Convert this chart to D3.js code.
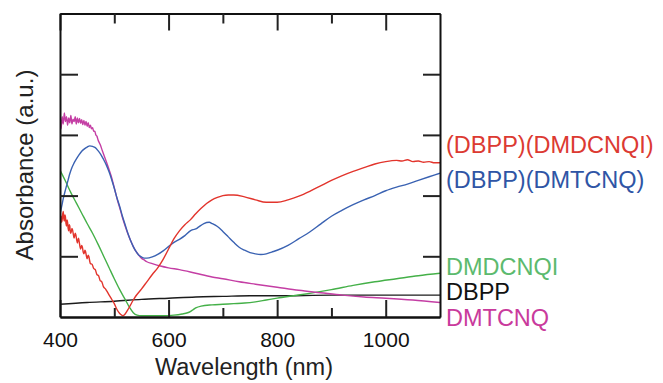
<!DOCTYPE html>
<html>
<head>
<meta charset="utf-8">
<script src="https://cdn.jsdelivr.net/npm/d3@7"></script>
<style>
  html, body { margin: 0; padding: 0; background: #fff; }
  svg { display: block; font-family: "Liberation Sans", Arial, Helvetica, sans-serif; }
</style>
</head>
<body>
<svg id="chart" width="663" height="383"></svg>
<script>
// Absorption spectra, wavelength (nm) vs absorbance (arbitrary units)
const labels = ["(DBPP)(DMDCNQI)", "(DBPP)(DMTCNQ)", "DMDCNQI", "DBPP", "DMTCNQ"];
const colors = ["#e2342c", "#3a62b2", "#44b048", "#1c1c1c", "#c43ea4"];
const labelColors = ["#dc3a32", "#2f55a5", "#5cba6e", "#111111", "#c93a9c"];

const xMajorTicks = [400, 600, 800, 1000];
const xMinorTicks = [500, 700, 900];
const yTicks = [1, 2, 3, 4];

const complexDMDCNQI = [
  [400,1.52],[401,1.62],[402,1.66],[403,1.56],[404,1.60],[405,1.70],[406,1.74],[407,1.62],
  [408,1.58],[409,1.68],[410,1.65],[411,1.54],[412,1.50],[413,1.60],[414,1.56],[415,1.46],
  [416,1.42],[417,1.52],[418,1.50],[419,1.40],[420,1.38],[422,1.46],[423,1.44],[425,1.34],
  [426,1.30],[428,1.38],[429,1.36],[431,1.26],[432,1.22],[434,1.30],[435,1.26],[437,1.15],
  [438,1.12],[440,1.18],[441,1.16],[443,1.06],[444,1.04],[446,1.10],[447,1.08],[449,0.99],
  [450,0.96],[452,1.02],[453,1.00],[455,0.91],[456,0.88],[459,0.87],
  [462,0.80],[465,0.78],[468,0.70],[471,0.68],[474,0.60],[477,0.58],[480,0.50],[484,0.46],
  [488,0.40],[492,0.34],[496,0.28],[500,0.22],[504,0.14],[508,0.08],[512,0.04],[516,0.02],
  [520,0.05],[525,0.12],[530,0.20],[535,0.28],[540,0.35],[550,0.46],[560,0.58],[570,0.70],
  [580,0.81],[590,0.95],[600,1.12],[610,1.29],[620,1.42],[630,1.52],[640,1.60],[650,1.70],
  [660,1.79],[670,1.87],[680,1.93],[690,1.97],[700,2.00],[710,2.01],[720,2.01],[740,1.98],
  [760,1.93],[780,1.89],[800,1.89],[820,1.93],[840,1.99],[860,2.07],[880,2.16],[900,2.25],
  [920,2.33],[940,2.40],[960,2.46],[980,2.52],[1000,2.56],[1020,2.58],[1030,2.57],[1040,2.59],
  [1050,2.56],[1060,2.57],[1070,2.55],[1080,2.56],[1090,2.54],[1100,2.54]
];

const complexDMTCNQ = [
  [400,1.70],[403,1.82],[406,1.95],[409,2.06],[412,2.16],[415,2.26],[418,2.36],[421,2.44],
  [425,2.52],[430,2.60],[435,2.67],[440,2.73],[445,2.77],[450,2.80],[455,2.82],[460,2.81],
  [465,2.79],[470,2.74],[475,2.68],[480,2.60],[485,2.51],[490,2.40],[495,2.27],[500,2.12],
  [505,1.96],[510,1.82],[515,1.66],[520,1.52],[525,1.38],[530,1.26],[535,1.16],[540,1.08],
  [545,1.02],[550,0.99],[555,0.97],[560,0.97],[570,0.99],[580,1.03],[590,1.09],[600,1.16],
  [610,1.23],[620,1.28],[630,1.34],[640,1.42],[645,1.44],[650,1.45],[655,1.48],[665,1.54],
  [675,1.56],[680,1.54],[690,1.49],[700,1.41],[710,1.32],[720,1.23],[730,1.15],[740,1.10],
  [750,1.06],[760,1.04],[770,1.03],[780,1.04],[790,1.07],[800,1.10],[820,1.18],[840,1.29],
  [860,1.40],[880,1.53],[900,1.66],[920,1.76],[940,1.85],[960,1.93],[980,2.00],[1000,2.08],
  [1020,2.14],[1040,2.19],[1060,2.25],[1080,2.31],[1100,2.37]
];

const dmdcnqi = [
  [400,2.42],[410,2.24],[420,2.05],[430,1.88],[440,1.71],[450,1.54],[460,1.38],[470,1.20],
  [480,1.01],[490,0.82],[500,0.63],[510,0.45],[520,0.29],[528,0.16],[535,0.07],[542,0.03],
  [550,0.02],[570,0.02],[590,0.02],[610,0.03],[625,0.05],[635,0.07],[640,0.09],[645,0.12],
  [650,0.15],[660,0.18],[680,0.20],[700,0.21],[720,0.22],[740,0.23],[760,0.25],[780,0.28],
  [800,0.31],[830,0.35],[860,0.39],[900,0.45],[940,0.52],[980,0.58],[1020,0.63],[1060,0.68],
  [1100,0.72]
];

const dbpp = [
  [400,0.21],[450,0.24],[500,0.26],[550,0.29],[600,0.31],[650,0.33],[700,0.34],[750,0.35],
  [800,0.35],[900,0.36],[1000,0.36],[1100,0.36]
];

const dmtcnq = [
  [400,3.38],[402,3.10],[404,3.30],[406,3.18],[408,3.36],[410,3.22],[412,3.30],[414,3.16],
  [416,3.28],[418,3.20],[420,3.32],[422,3.18],[424,3.26],[426,3.22],[428,3.30],[430,3.18],
  [432,3.28],[434,3.20],[436,3.27],[438,3.19],[440,3.25],[442,3.17],[444,3.24],[446,3.16],
  [448,3.22],[450,3.14],[452,3.20],[454,3.12],[456,3.16],[458,3.10],[460,3.12],[462,3.06],
  [464,3.06],[466,3.00],[468,2.98],[470,2.92],[474,2.84],[478,2.74],[482,2.64],[486,2.54],
  [490,2.44],[494,2.33],[498,2.20],[502,2.06],[506,1.92],[510,1.80],[515,1.64],[520,1.50],
  [525,1.37],[530,1.26],[535,1.16],[540,1.08],[545,1.02],[550,0.97],[555,0.94],[560,0.91],
  [570,0.88],[585,0.84],[600,0.81],[620,0.78],[650,0.72],[680,0.66],[700,0.63],[730,0.58],
  [760,0.54],[800,0.49],[840,0.44],[880,0.40],[920,0.36],[960,0.33],[1000,0.31],[1050,0.28],
  [1100,0.24]
];

const spectra = [complexDMDCNQI, complexDMTCNQ, dmdcnqi, dbpp, dmtcnq];
const labelBaselines = [153, 188, 275, 300, 326];

const svg = d3.select("#chart");
const plotLeft = 60, plotRight = 440, plotTop = 13.5, plotBottom = 317;

const x = d3.scaleLinear().domain([400, 1100]).range([plotLeft, plotRight]);
const y = d3.scaleLinear().domain([0, 5]).range([plotBottom, plotTop]);

svg.append("defs").append("clipPath").attr("id", "plot-clip")
  .append("rect").attr("x", plotLeft).attr("y", plotTop)
  .attr("width", plotRight - plotLeft).attr("height", plotBottom - plotTop);

// Spectra
const line = d3.line().x(d => x(d[0])).y(d => y(d[1])).curve(d3.curveMonotoneX);
const lines = svg.append("g").attr("clip-path", "url(#plot-clip)");
[3, 2, 4, 1, 0].forEach(i => {
  lines.append("path")
    .datum(spectra[i])
    .attr("fill", "none")
    .attr("stroke", colors[i])
    .attr("stroke-width", 1.4)
    .attr("stroke-linejoin", "round")
    .attr("d", line);
});

// Axes: ticks point inward on all four sides
function styleAxis(g) {
  g.selectAll(".domain").attr("stroke", "#111").attr("stroke-width", 2);
  g.selectAll(".tick line").attr("stroke", "#222").attr("stroke-width", 2);
  g.selectAll(".tick text").attr("font-size", 21).attr("fill", "#111")
    .attr("font-family", "'Liberation Sans', Arial, sans-serif");
}

svg.append("g").attr("transform", `translate(0,${plotBottom})`)
  .call(d3.axisBottom(x).tickValues(xMajorTicks).tickSizeInner(-17).tickSizeOuter(0).tickPadding(15).tickFormat(d3.format("d")))
  .call(styleAxis);
svg.append("g").attr("transform", `translate(0,${plotBottom})`)
  .call(d3.axisBottom(x).tickValues(xMinorTicks).tickSizeInner(-9).tickSizeOuter(0).tickFormat(""))
  .call(styleAxis);
svg.append("g").attr("transform", `translate(0,${plotTop})`)
  .call(d3.axisTop(x).tickValues(xMajorTicks).tickSizeInner(-17).tickSizeOuter(0).tickFormat(""))
  .call(styleAxis);
svg.append("g").attr("transform", `translate(0,${plotTop})`)
  .call(d3.axisTop(x).tickValues(xMinorTicks).tickSizeInner(-10).tickSizeOuter(0).tickFormat(""))
  .call(styleAxis);
svg.append("g").attr("transform", `translate(${plotLeft},0)`)
  .call(d3.axisLeft(y).tickValues(yTicks).tickSizeInner(-18).tickSizeOuter(0).tickFormat(""))
  .call(styleAxis);
svg.append("g").attr("transform", `translate(${plotRight},0)`)
  .call(d3.axisRight(y).tickValues(yTicks).tickSizeInner(-17).tickSizeOuter(0).tickFormat(""))
  .call(styleAxis);

// Axis titles
svg.append("text")
  .attr("x", 244).attr("y", 375)
  .attr("text-anchor", "middle")
  .attr("font-size", 23.5).attr("fill", "#222")
  .text("Wavelength (nm)");
svg.append("text")
  .attr("transform", "translate(33,165) rotate(-90)")
  .attr("text-anchor", "middle")
  .attr("font-size", 24).attr("fill", "#222")
  .text("Absorbance (a.u.)");

// Series labels at the right edge
labels.forEach((t, i) => {
  svg.append("text")
    .attr("x", 446).attr("y", labelBaselines[i])
    .attr("font-size", 23.5)
    .attr("fill", labelColors[i])
    .text(t);
});
</script>
</body>
</html>
